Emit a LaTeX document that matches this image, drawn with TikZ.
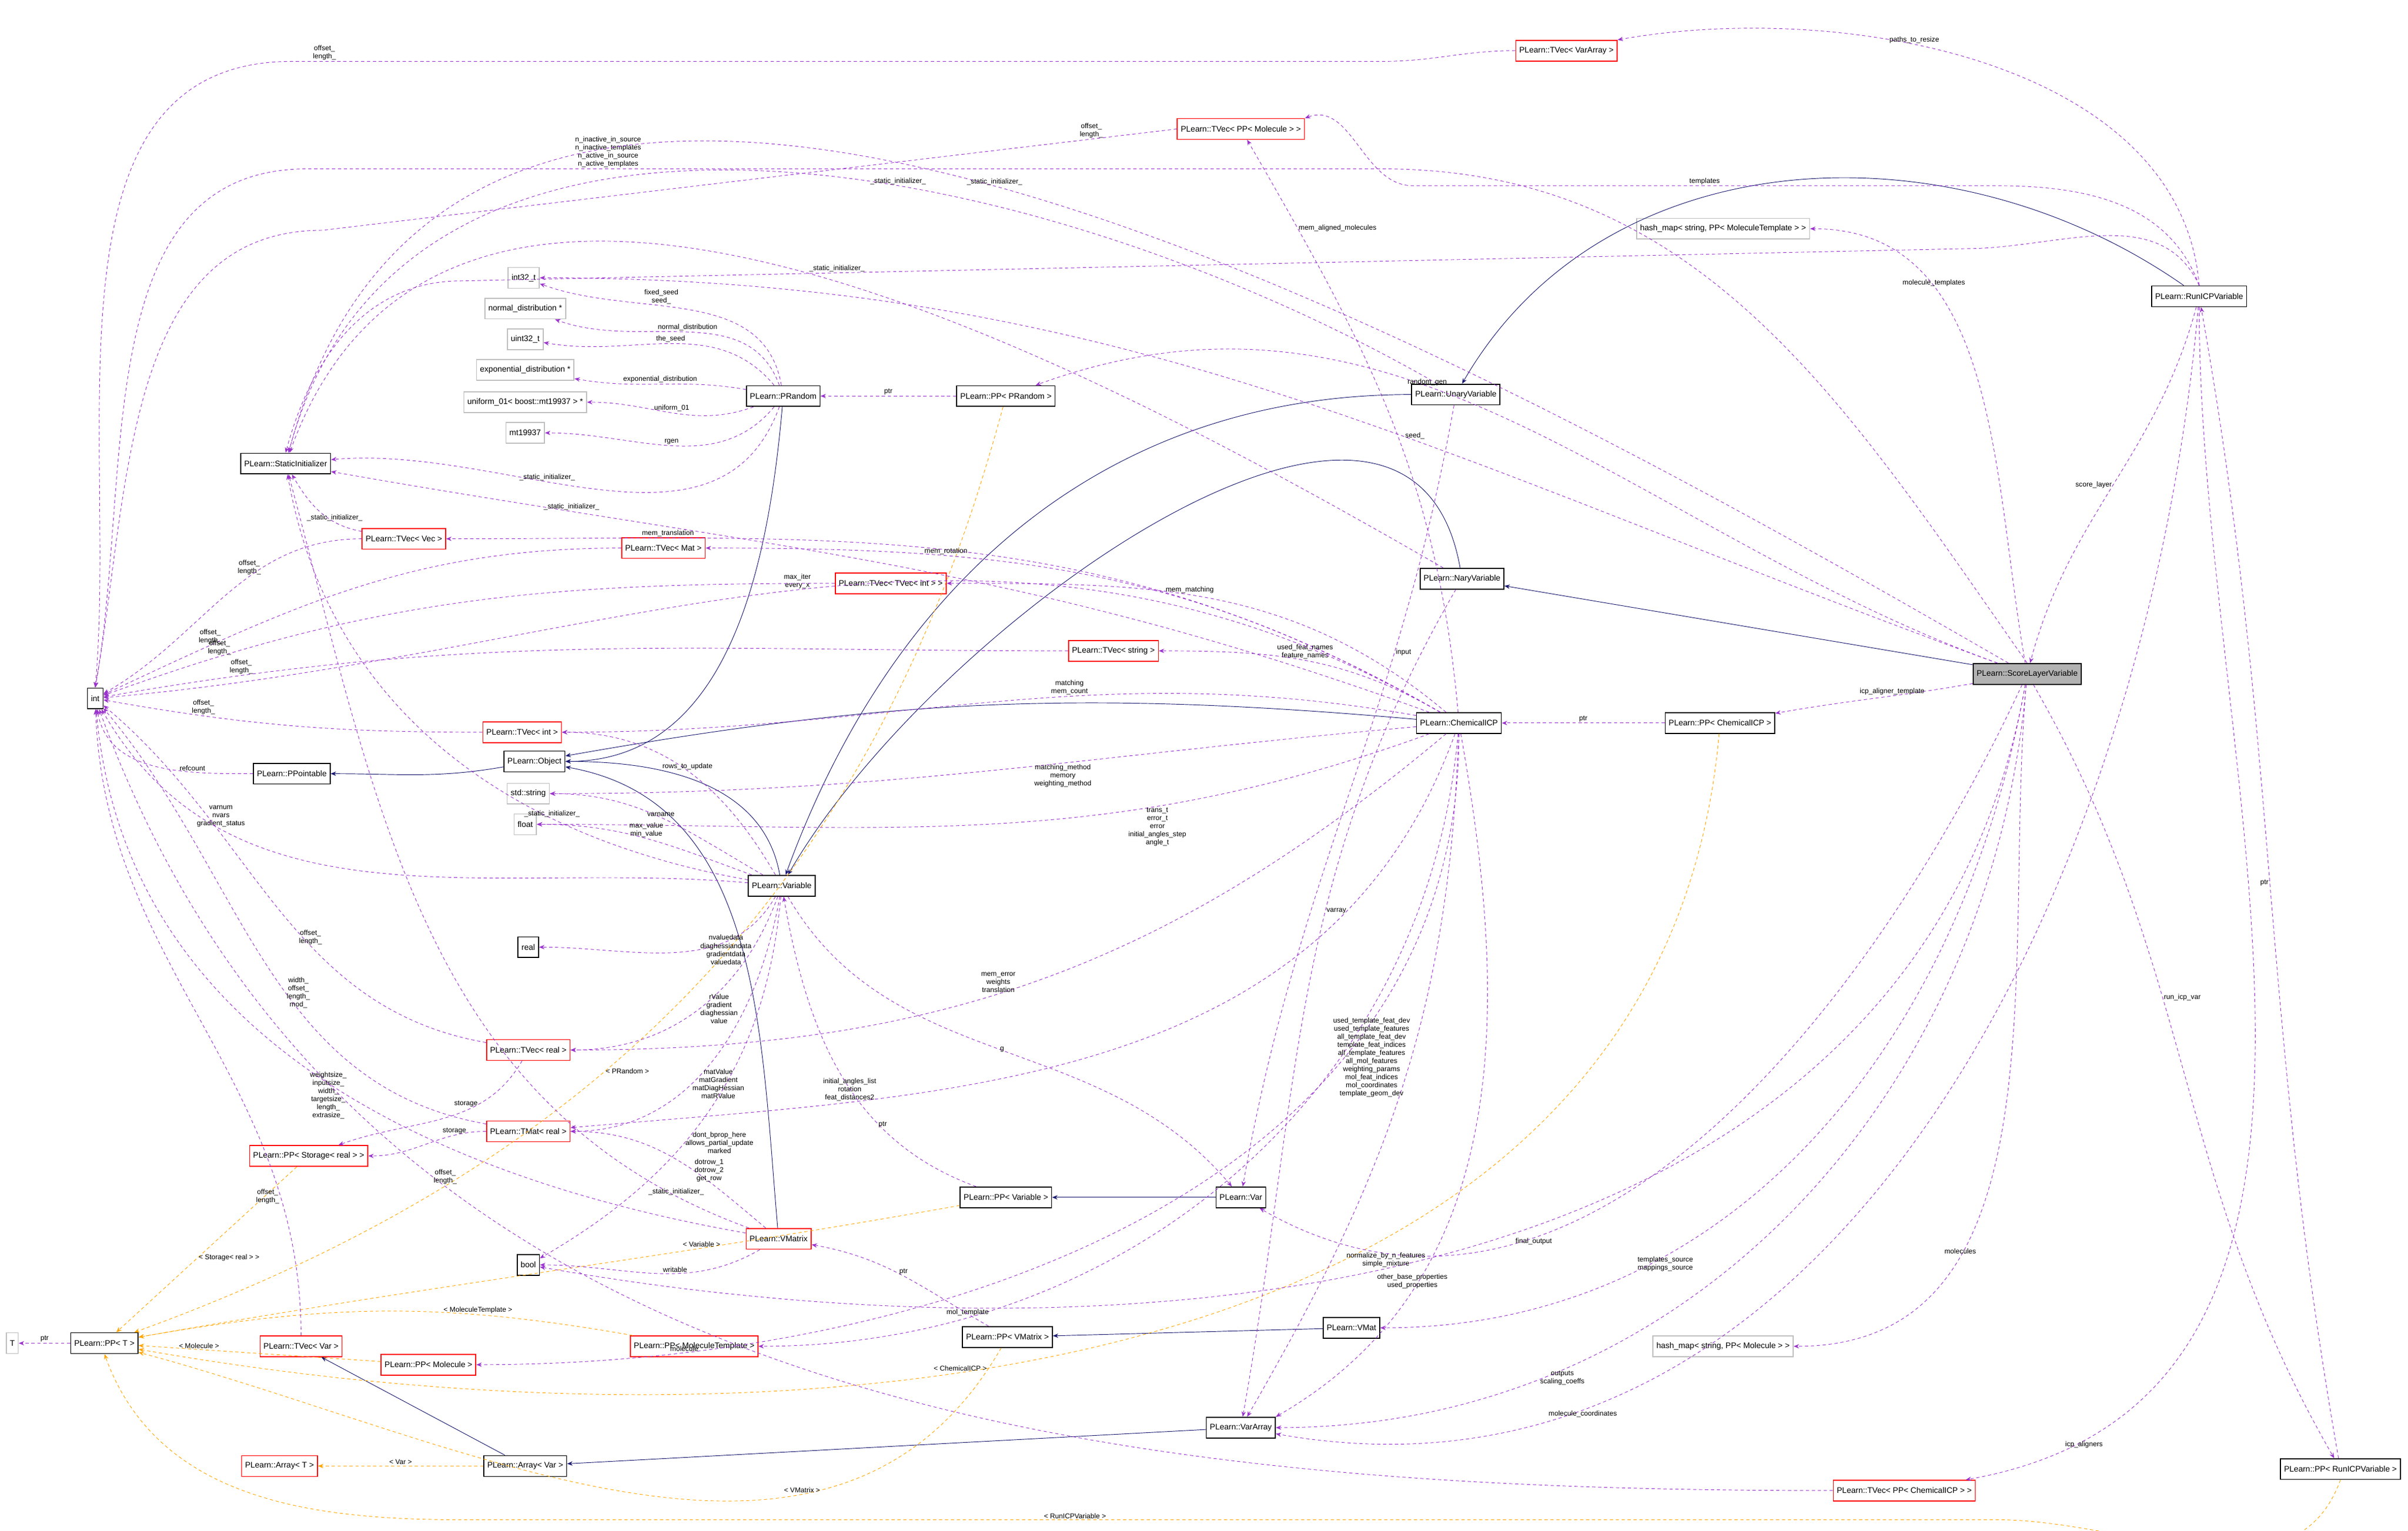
\documentclass[tikz,border=0pt]{standalone}
\usepackage{fontspec}
\setmainfont{Liberation Sans}
\usetikzlibrary{arrows.meta}
\definecolor{puse}{HTML}{9A32CD}
\definecolor{pinh}{HTML}{191970}
\definecolor{ptmp}{HTML}{FFA500}
\tikzset{
 x=0.02cm,y=-0.02cm,
 every node/.style={font=\fontsize{3}{3.4}\selectfont},
 every path/.style={line width=0.2pt},
 bxbase/.style={line width=0.35pt,fill=white,minimum height=0.27cm,inner xsep=1.3pt,inner ysep=0.4pt},
 bx/.style={bxbase,draw=black},
 rbx/.style={bxbase,draw=red},
 gbx/.style={bxbase,draw=black!25},
 sbx/.style={bxbase,draw=black,fill=black!30},
 uedge/.style={draw=puse,dash pattern=on 1.2pt off 1pt,-{Stealth[length=2pt,width=1.6pt]}},
 iedge/.style={draw=pinh,-{Stealth[length=2pt,width=1.6pt]}},
 tedge/.style={draw=ptmp,dash pattern=on 1.2pt off 1pt,-{Stealth[length=2pt,width=1.6pt]}},
 lb/.style={align=center,inner sep=0.4pt,font=\fontsize{2.6}{3}\selectfont},
}
\begin{document}
\begin{tikzpicture}
\useasboundingbox (0,0) rectangle (1568,997);
% nodes
\node[bx] (int) at (62,455) {int};
\node[gbx] (T) at (8,875) {T};
\node[bx] (PPT) at (68,875) {PLearn::PP< T >};
\node[bx] (SI) at (186,302) {PLearn::StaticInitializer};
\node[gbx] (i32) at (341,181) {int32\_t};
\node[gbx] (nd) at (342,201) {normal\_distribution *};
\node[gbx] (u32) at (342,221) {uint32\_t};
\node[gbx] (ed) at (342,241) {exponential\_distribution *};
\node[gbx] (uni) at (342,262) {uniform\_01< boost::mt19937 > *};
\node[gbx] (mt) at (342,282) {mt19937};
\node[bx] (PR) at (510,258) {PLearn::PRandom};
\node[bx] (PPR) at (655,258) {PLearn::PP< PRandom >};
\node[rbx] (TVVA) at (1020,33) {PLearn::TVec< VarArray >};
\node[rbx] (TVPM) at (808,84) {PLearn::TVec< PP< Molecule > >};
\node[gbx] (HMT) at (1122,149) {hash\_map< string, PP< MoleculeTemplate > >};
\node[bx] (RICP) at (1432,193) {PLearn::RunICPVariable};
\node[bx] (UV) at (948,257) {PLearn::UnaryVariable};
\node[bx] (NV) at (952,377) {PLearn::NaryVariable};
\node[sbx] (SLV) at (1320,439) {PLearn::ScoreLayerVariable};
\node[bx] (CICP) at (950,471) {PLearn::ChemicalICP};
\node[bx] (PPC) at (1120,471) {PLearn::PP< ChemicalICP >};
\node[rbx] (TVVec) at (263,351) {PLearn::TVec< Vec >};
\node[rbx] (TVMat) at (432,357) {PLearn::TVec< Mat >};
\node[rbx] (TVTVI) at (580,380) {PLearn::TVec< TVec< int > >};
\node[rbx] (TVS) at (725,424) {PLearn::TVec< string >};
\node[rbx] (TVI) at (340,477) {PLearn::TVec< int >};
\node[bx] (OBJ) at (348,496) {PLearn::Object};
\node[bx] (PPO) at (190,504) {PLearn::PPointable};
\node[gbx] (STR) at (344,517) {std::string};
\node[gbx] (FL) at (342,537) {float};
\node[bx] (VAR) at (509,577) {PLearn::Variable};
\node[bx] (REAL) at (344,617) {real};
\node[rbx] (TVR) at (344,684) {PLearn::TVec< real >};
\node[rbx] (TMR) at (344,737) {PLearn::TMat< real >};
\node[rbx] (PPS) at (201,753) {PLearn::PP< Storage< real > >};
\node[rbx] (VM) at (507,807) {PLearn::VMatrix};
\node[bx] (BOOL) at (344,824) {bool};
\node[rbx] (PPMT) at (452,877) {PLearn::PP< MoleculeTemplate >};
\node[rbx] (TVV) at (196,877) {PLearn::TVec< Var >};
\node[rbx] (PPM) at (279,889) {PLearn::PP< Molecule >};
\node[bx] (PPV) at (655,780) {PLearn::PP< Variable >};
\node[bx] (V) at (808,780) {PLearn::Var};
\node[bx] (PPVM) at (656,871) {PLearn::PP< VMatrix >};
\node[bx] (VMAT) at (880,865) {PLearn::VMat};
\node[gbx] (HMM) at (1122,877) {hash\_map< string, PP< Molecule > >};
\node[bx] (VA) at (808,930) {PLearn::VarArray};
\node[bx] (AV) at (342,955) {PLearn::Array< Var >};
\node[rbx] (AT) at (182,955) {PLearn::Array< T >};
\node[rbx] (TVPC) at (1240,971) {PLearn::TVec< PP< ChemicalICP > >};
\node[bx] (PPRI) at (1524,957) {PLearn::PP< RunICPVariable >};
% inheritance
\draw[iedge] (PR) to[out=-95,in=0] (OBJ);
\draw[iedge] (OBJ) to[out=-170,in=0] (PPO);
\draw[iedge] (VAR) to[out=100,in=0] (OBJ);
\draw[iedge] (VM) to[out=95,in=-10] (OBJ);
\draw[iedge] (CICP) to[out=175,in=10] (OBJ);
\draw[iedge] (UV.west) to[out=180,in=70] (VAR);
\draw[iedge] (NV) to[out=100,in=60] (VAR);
\draw[iedge] (RICP) to[out=145,in=60] (UV);
\draw[iedge] (SLV) -- (NV);
\draw[iedge] (V) -- (PPV);
\draw[iedge] (VMAT) -- (PPVM);
\draw[iedge] (VA) -- (AV);
\draw[iedge] (AV) -- (TVV);
% template instances
\draw[tedge] (PPR) to[out=-105,in=20] node[lb,pos=0.6,black,right]{< PRandom >} (PPT);
\draw[tedge] (PPS) -- node[lb,pos=0.55,black,right]{< Storage< real > >} (PPT);
\draw[tedge] (PPMT) to[out=170,in=10] node[lb,pos=0.3,black,above]{< MoleculeTemplate >} (PPT);
\draw[tedge] (PPM) -- node[lb,pos=0.75,black,above]{< Molecule >} (PPT);
\draw[tedge] (PPV) to[out=-170,in=10] node[lb,pos=0.3,black,above]{< Variable >} (PPT);
\draw[tedge] (PPC) to[out=-95,in=-10] node[lb,pos=0.6,black,above]{< ChemicalICP >} (PPT);
\draw[tedge] (PPVM) to[out=-120,in=-15] node[lb,pos=0.3,black,above]{< VMatrix >} (PPT);
\draw[tedge] (PPRI.south) to[out=-110,in=0] (1300,990) -- node[lb,pos=0.6,black,above]{< RunICPVariable >} (300,990) to[out=180,in=-70] (PPT.south);
\draw[tedge] (AV) -- node[lb,black,above]{< Var >} (AT);
% usage
\draw[uedge] (PPT) -- node[lb,above]{ptr} (T);
\draw[uedge] (TVVA.west) to[out=180,in=0] (900,40) -- node[lb,pos=0.97,above]{offset\_\\length\_} (190,40) to[out=180,in=85] (int.north);
\draw[uedge] (RICP.north) .. controls (1420,40) and (1200,0) .. node[lb,pos=0.6,above]{paths\_to\_resize} (TVVA.north east);
\draw[uedge] (SLV.north) to[out=125,in=0] (900,110) -- node[lb,pos=0.72,above]{n\_inactive\_in\_source\\n\_inactive\_templates\\n\_active\_in\_source\\n\_active\_templates} (200,110) to[out=180,in=80] (int.north);
\draw[uedge] (TVPM.west) -- (210,150) node[lb,pos=0.1,above]{offset\_\\length\_} to[out=180,in=80] (int.north);
\draw[uedge] (RICP.north) to[out=110,in=0] (1300,121) -- node[lb,pos=0.5,above]{templates} (920,121) to[out=180,in=20] (TVPM.north east);
\draw[uedge] (RICP.north) to[out=115,in=0] (1280,162) -- node[lb,pos=0.75,above]{\_static\_initializer\_} (300,183) to[out=180,in=75] (SI.north);
\draw[uedge] (SLV) to[out=150,in=75] node[lb,pos=0.5,above]{\_static\_initializer\_} (SI);
\draw[uedge] (UV) to[out=150,in=75] node[lb,pos=0.4,above]{\_static\_initializer\_} (SI);
\draw[uedge] (NV) to[out=150,in=70] (SI);
\draw[uedge] (SLV) to[out=160,in=0] node[lb,pos=0.4,above]{seed\_} (i32);
\draw[uedge] (PR) to[out=100,in=-20] node[lb,pos=0.6,above]{fixed\_seed\\seed\_} (i32);
\draw[uedge] (PR) to[out=110,in=-20] node[lb,pos=0.5,above]{normal\_distribution} (nd);
\draw[uedge] (PR) to[out=130,in=-10] node[lb,pos=0.5,above]{the\_seed} (u32);
\draw[uedge] (PR) to[out=170,in=-10] node[lb,pos=0.5,above]{exponential\_distribution} (ed);
\draw[uedge] (PR) to[out=-160,in=0] node[lb,pos=0.5,above]{uniform\_01} (uni);
\draw[uedge] (PR) to[out=-130,in=0] node[lb,pos=0.5,above]{rgen} (mt);
\draw[uedge] (PR) to[out=-110,in=5] node[lb,pos=0.6,above]{\_static\_initializer\_} (SI);
\draw[uedge] (PPR) -- node[lb,above]{ptr} (PR);
\draw[uedge] (SLV) to[out=160,in=20] node[lb,pos=0.6,above]{random\_gen} (PPR);
\draw[uedge] (SLV) to[out=100,in=0] node[lb,pos=0.7,above]{molecule\_templates} (HMT);
\draw[uedge] (CICP) to[out=95,in=-60] node[lb,pos=0.85,right]{mem\_aligned\_molecules} (TVPM);
\draw[uedge] (CICP) to[out=160,in=-10] node[lb,pos=0.8,above]{\_static\_initializer\_} (SI);
\draw[uedge] (CICP) to[out=150,in=0] node[lb,pos=0.8,above]{mem\_translation} (TVVec);
\draw[uedge] (CICP) to[out=150,in=0] node[lb,pos=0.7,above]{mem\_rotation} (TVMat);
\draw[uedge] (CICP) to[out=140,in=0] node[lb,pos=0.55,above]{mem\_matching} (TVTVI);
\draw[uedge] (CICP) to[out=150,in=0] node[lb,pos=0.5,above]{used\_feat\_names\\feature\_names} (TVS);
\draw[uedge] (CICP) to[out=150,in=5] node[lb,pos=0.5,above]{max\_iter\\every\_x} (int);
\draw[uedge] (CICP) to[out=170,in=0] node[lb,pos=0.4,above]{matching\\mem\_count} (TVI);
\draw[uedge] (CICP) to[out=-175,in=0] node[lb,pos=0.4,below]{matching\_method\\memory\\weighting\_method} (STR);
\draw[uedge] (CICP) to[out=-160,in=0] node[lb,pos=0.3,below]{trans\_t\\error\_t\\error\\initial\_angles\_step\\angle\_t} (FL);
\draw[uedge] (CICP) to[out=-140,in=0] node[lb,pos=0.55,above]{mem\_error\\weights\\translation} (TVR);
\draw[uedge] (CICP) to[out=-110,in=5] node[lb,pos=0.75,above]{initial\_angles\_list\\rotation\\feat\_distances2} (TMR);
\draw[uedge] (CICP) to[out=-95,in=0] node[lb,pos=0.8,above]{mol\_template} (PPMT);
\draw[uedge] (CICP) to[out=-90,in=0] node[lb,pos=0.85,above]{molecule} (PPM);
\draw[uedge] (CICP) to[out=-92,in=60] node[lb,pos=0.45,left]{used\_template\_feat\_dev\\used\_template\_features\\all\_template\_feat\_dev\\template\_feat\_indices\\all\_template\_features\\all\_mol\_features\\weighting\_params\\mol\_feat\_indices\\mol\_coordinates\\template\_geom\_dev} (VA);
\draw[uedge] (PPC) -- node[lb,above]{ptr} (CICP);
\draw[uedge] (SLV) to[out=-170,in=10] node[lb,pos=0.4,above]{icp\_aligner\_template} (PPC);
\draw[uedge] (UV) to[out=-100,in=80] node[lb,pos=0.3,right]{input} (V);
\draw[uedge] (NV) to[out=-120,in=80] node[lb,pos=0.4,right]{varray} (VA);
\draw[uedge] (SLV) to[out=-115,in=-30] node[lb,pos=0.7,below]{final\_output} (V);
\draw[uedge] (SLV) to[out=-100,in=0] node[lb,pos=0.7,below]{templates\_source\\mappings\_source} (VMAT);
\draw[uedge] (SLV) to[out=-95,in=0] node[lb,pos=0.7,above]{molecules} (HMM);
\draw[uedge] (SLV) to[out=-95,in=0] node[lb,pos=0.75,below]{outputs\\scaling\_coeffs} (VA);
\draw[uedge] (SLV) to[out=-100,in=-10] node[lb,pos=0.55,above]{normalize\_by\_n\_features\\simple\_mixture} (BOOL);
\draw[uedge] (CICP) to[out=-80,in=30] node[lb,pos=0.75,above]{other\_base\_properties\\used\_properties} (VA.north east);
\draw[uedge] (RICP) to[out=-95,in=-10] node[lb,pos=0.8,below]{molecule\_coordinates} (VA);
\draw[uedge] (RICP) to[out=-90,in=10] node[lb,pos=0.9,below]{icp\_aligners} (TVPC);
\draw[uedge] (PPRI) to[out=100,in=-80] node[lb,pos=0.5,left]{ptr} (RICP);
\draw[uedge] (SLV) to[out=-60,in=120] node[lb,pos=0.4,right]{run\_icp\_var} (PPRI);
\draw[uedge] (RICP) to[out=-105,in=75] node[lb,pos=0.5,left]{score\_layer} (SLV);
\draw[uedge] (TVPC) to[out=180,in=-70] node[lb,pos=0.7,above]{offset\_\\length\_} (int);
\draw[uedge] (VAR) to[out=120,in=0] node[lb,pos=0.5,above]{rows\_to\_update} (TVI);
\draw[uedge] (VAR) to[out=150,in=0] node[lb,pos=0.5,above]{varname} (STR);
\draw[uedge] (VAR) to[out=160,in=0] node[lb,pos=0.5,above]{max\_value\\min\_value} (FL);
\draw[uedge] (VAR) to[out=175,in=-60] node[lb,pos=0.75,above]{varnum\\nvars\\gradient\_status} (int);
\draw[uedge] (VAR) to[out=170,in=-80] node[lb,pos=0.3,above]{\_static\_initializer\_} (SI);
\draw[uedge] (VAR) to[out=-120,in=0] node[lb,pos=0.4,right]{nvaluedata\\diaghessiandata\\gradientdata\\valuedata} (REAL);
\draw[uedge] (VAR) to[out=-110,in=0] node[lb,pos=0.5,right]{rValue\\gradient\\diaghessian\\value} (TVR);
\draw[uedge] (VAR) to[out=-100,in=0] node[lb,pos=0.6,right]{matValue\\matGradient\\matDiagHessian\\matRValue} (TMR);
\draw[uedge] (VAR) to[out=-95,in=30] node[lb,pos=0.6,right]{dont\_bprop\_here\\allows\_partial\_update\\marked} (BOOL);
\draw[uedge] (VAR) to[out=-60,in=130] node[lb,pos=0.5,right]{g} (V);
\draw[uedge] (PPV) to[out=160,in=-80] node[lb,pos=0.3,above]{ptr} (VAR);
\draw[uedge] (TVVec) to[out=180,in=30] node[lb,pos=0.4,above]{offset\_\\length\_} (int);
\draw[uedge] (TVMat) to[out=180,in=25] node[lb,pos=0.8,above]{offset\_\\length\_} (int);
\draw[uedge] (TVTVI) to[out=180,in=20] node[lb,pos=0.85,above]{offset\_\\length\_} (int);
\draw[uedge] (TVS) to[out=180,in=10] node[lb,pos=0.87,above]{offset\_\\length\_} (int);
\draw[uedge] (TVI) to[out=180,in=-10] node[lb,pos=0.75,above]{offset\_\\length\_} (int);
\draw[uedge] (TVVec) to[out=170,in=-60] node[lb,pos=0.3,above]{\_static\_initializer\_} (SI);
\draw[uedge] (TVR) to[out=170,in=-40] node[lb,pos=0.4,above]{offset\_\\length\_} (int);
\draw[uedge] (TMR) to[out=170,in=-50] node[lb,pos=0.4,above]{width\_\\offset\_\\length\_\\mod\_} (int);
\draw[uedge] (TVR) to[out=-120,in=20] node[lb,pos=0.3,left]{storage} (PPS);
\draw[uedge] (TMR) to[out=180,in=0] node[lb,pos=0.25,above]{storage} (PPS);
\draw[uedge] (PPO) to[out=180,in=-80] node[lb,pos=0.3,above]{refcount} (int);
\draw[uedge] (VM) to[out=170,in=-85] node[lb,pos=0.45,left]{weightsize\_\\inputsize\_\\width\_\\targetsize\_\\length\_\\extrasize\_} (int);
\draw[uedge] (VM) to[out=140,in=0] node[lb,pos=0.4,right]{dotrow\_1\\dotrow\_2\\get\_row} (TMR);
\draw[uedge] (VM) to[out=-150,in=0] node[lb,pos=0.4,above]{writable} (BOOL);
\draw[uedge] (VM) to[out=160,in=-75] node[lb,pos=0.08,above]{\_static\_initializer\_} (SI);
\draw[uedge] (PPVM) to[out=150,in=-10] node[lb,pos=0.5,above]{ptr} (VM);
\draw[uedge] (TVV) to[out=90,in=-88] node[lb,pos=0.2,left]{offset\_\\length\_} (int);
\end{tikzpicture}
\end{document}
